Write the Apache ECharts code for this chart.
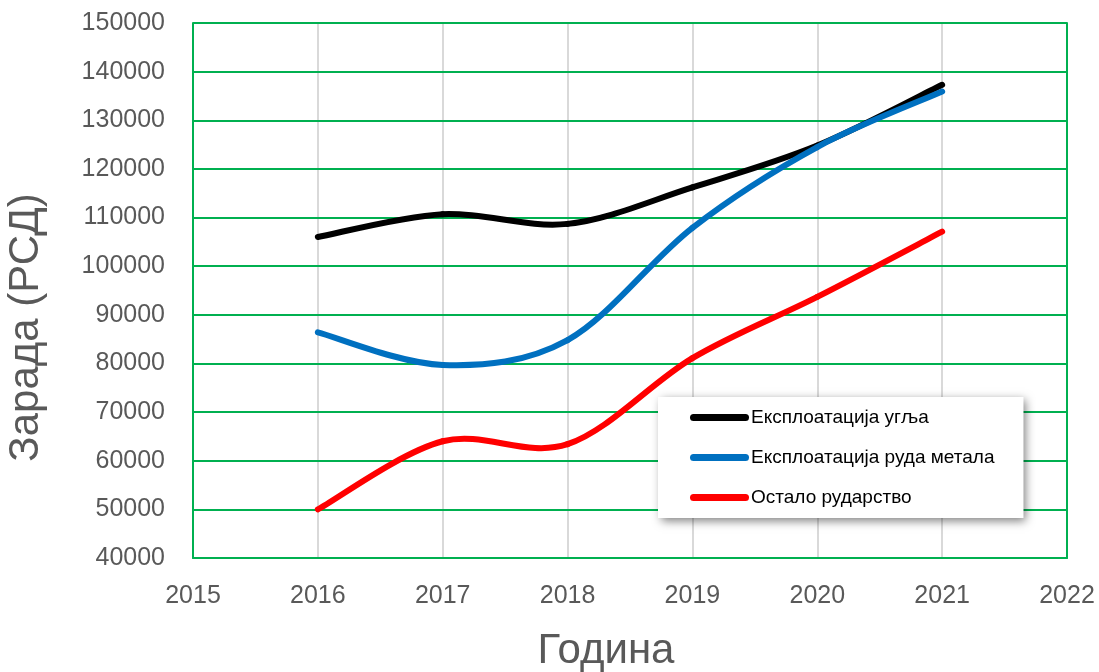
<!DOCTYPE html>
<html>
<head>
<meta charset="utf-8">
<title>Зарада</title>
<script src="https://cdn.jsdelivr.net/npm/echarts@6/dist/echarts.min.js"></script>
<style>
  html, body { margin: 0; padding: 0; background: #fff; }
  #main { width: 1099px; height: 672px; }
</style>
</head>
<body>
<div id="main"></div>
<script>
// подаци
var years = [2016, 2017, 2018, 2019, 2020, 2021];
var ugalj = [106000, 110700, 108700, 116200, 124800, 137300];
var rudaMetala = [86400, 79700, 84800, 107900, 124500, 135900];
var ostalo = [50000, 64000, 63400, 81100, 93700, 107100];
var names = ['Експлоатација угља', 'Експлоатација руда метала', 'Остало рударство'];
var colors = ['#000000', '#0070C0', '#FF0000'];

function pairs(vals) {
    return years.map(function (y, i) { return [y, vals[i]]; });
}

// глатка линија као у Excel-у (Catmull-Rom), тачке преко api.coord
function smoothSeries(name, vals, color, z) {
    return {
        name: name,
        type: 'custom',
        z: z,
        itemStyle: { color: color },
        encode: { x: 0, y: 1 },
        data: pairs(vals),
        renderItem: function (params, api) {
            var i = params.dataIndex;
            if (i === 0) return null;
            var p = vals.map(function (v, k) { return api.coord([years[k], v]); });
            var p0 = p[i - 2] || p[i - 1], p1 = p[i - 1], p2 = p[i], p3 = p[i + 1] || p[i];
            return {
                type: 'bezierCurve',
                shape: {
                    x1: p1[0], y1: p1[1], x2: p2[0], y2: p2[1],
                    cpx1: p1[0] + (p2[0] - p0[0]) / 6, cpy1: p1[1] + (p2[1] - p0[1]) / 6,
                    cpx2: p2[0] - (p3[0] - p1[0]) / 6, cpy2: p2[1] - (p3[1] - p1[1]) / 6
                },
                style: { stroke: color, lineWidth: 6, fill: null, lineCap: 'round' }
            };
        }
    };
}

var myChart = echarts.init(document.getElementById('main'));

var font = 'Liberation Sans';
var green = '#00B050';

var option = {
    animation: false,
    textStyle: { fontFamily: font },
    grid: { left: 193, right: 32, top: 23, bottom: 114, outerBoundsMode: 'none' },
    legend: {
        orient: 'vertical',
        left: 658,
        top: 397,
        padding: [11, 29, 11, 32],
        itemGap: 21,
        itemWidth: 59,
        itemHeight: 7,
        icon: 'path://M3.5,0 H55.5 A3.5,3.5 0 0 1 55.5,7 H3.5 A3.5,3.5 0 0 1 3.5,0 Z',
        backgroundColor: '#fff',
        shadowColor: 'rgba(0,0,0,0.5)',
        shadowBlur: 9,
        shadowOffsetX: 3,
        shadowOffsetY: 3,
        textStyle: { fontSize: 19, color: '#000', padding: [0, 0, 0, -3] },
        data: names
    },
    xAxis: {
        type: 'value',
        min: 2015,
        max: 2022,
        interval: 1,
        z: 1,
        name: 'Година',
        nameLocation: 'middle',
        nameGap: 72,
        nameTextStyle: { fontSize: 42, color: '#595959', padding: [0, 48, 0, 0] },
        axisLine: { show: true, lineStyle: { color: green, width: 2 } },
        axisTick: { show: false },
        axisLabel: { fontSize: 25, color: '#595959', margin: 26, formatter: function (v) { return String(v); } },
        splitLine: { show: true, lineStyle: { color: '#D9D9D9', width: 2 } }
    },
    yAxis: [{
        type: 'value',
        min: 40000,
        max: 150000,
        interval: 10000,
        z: 2,
        name: 'Зарада (РСД)',
        nameLocation: 'middle',
        nameGap: 146,
        nameRotate: 90,
        nameTextStyle: { fontSize: 42, color: '#595959', padding: [0, 74, 0, 0] },
        axisLine: { show: true, lineStyle: { color: green, width: 2 } },
        axisTick: { show: false },
        axisLabel: { fontSize: 25, color: '#595959', margin: 28, formatter: function (v) { return String(v); } },
        splitLine: { show: true, lineStyle: { color: green, width: 2 } }
    }, {
        type: 'value',
        position: 'right',
        min: 40000,
        max: 150000,
        interval: 10000,
        z: 2,
        axisLine: { show: true, lineStyle: { color: green, width: 2 } },
        axisTick: { show: false },
        axisLabel: { show: false },
        splitLine: { show: false }
    }],
    series: [
        smoothSeries(names[0], ugalj, colors[0], 5),
        smoothSeries(names[1], rudaMetala, colors[1], 6),
        smoothSeries(names[2], ostalo, colors[2], 7)
    ]
};

myChart.setOption(option);
</script>
</body>
</html>
